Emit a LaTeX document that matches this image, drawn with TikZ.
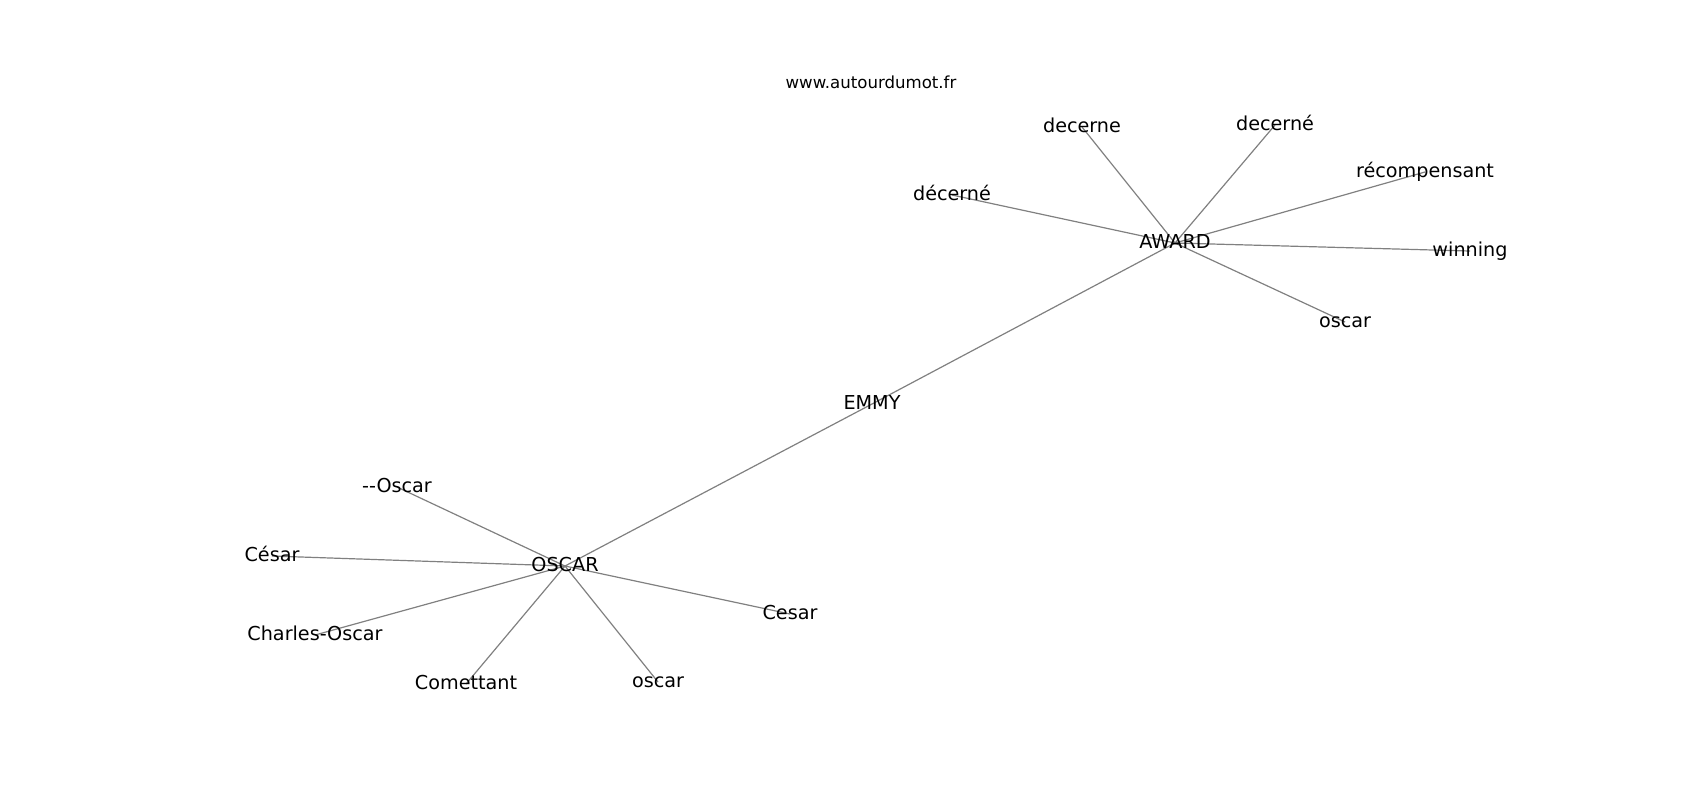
\documentclass[tikz,border=0pt]{standalone}
\usepackage{fontspec}
\setmainfont{DejaVu Sans}
\begin{document}
\begin{tikzpicture}[x=0.5pt,y=-0.5pt,
  lbl/.style={inner sep=0pt,font=\fontsize{9.6}{10}\selectfont,text height=0.78em,text depth=0.22em,anchor=center},
  edge/.style={draw=gray,line width=0.6pt}]
\useasboundingbox (0,0) rectangle (1700,800);
% node positions
\coordinate (award) at (1175,243);
\coordinate (emmy) at (872,404);
\coordinate (oscar) at (565,566);
\coordinate (decerne1) at (952,195);
\coordinate (decerne2) at (1082,127);
\coordinate (decerne3) at (1275,125);
\coordinate (recomp) at (1425,172);
\coordinate (winning) at (1470,251);
\coordinate (oscartop) at (1345,322);
\coordinate (doscar) at (397,487);
\coordinate (cesar1) at (272,556);
\coordinate (charles) at (315,635);
\coordinate (comet) at (466,684);
\coordinate (oscarbot) at (658,682);
\coordinate (cesar2) at (790,614);
% edges
\foreach \n in {decerne1,decerne2,decerne3,recomp,winning,oscartop,emmy}
  \draw[edge] (award) -- (\n);
\foreach \n in {doscar,cesar1,charles,comet,oscarbot,cesar2}
  \draw[edge] (oscar) -- (\n);
\draw[edge] (emmy) -- (oscar);
% labels
\node[lbl] (lAWARD) at (award) {AWARD};
\node[lbl] (lEMMY) at (emmy) {EMMY};
\node[lbl] (lOSCAR) at (oscar) {OSCAR};
\node[lbl] (l1) at (decerne1) {décerné};
\node[lbl] (l2) at (decerne2) {decerne};
\node[lbl] (l3) at (decerne3) {decerné};
\node[lbl] (l4) at (recomp) {récompensant};
\node[lbl] (l5) at (winning) {winning};
\node[lbl] (l6) at (oscartop) {oscar};
\node[lbl] (l7) at (doscar) {-{}-Oscar};
\node[lbl] (l8) at (cesar1) {César};
\node[lbl] (l9) at (charles) {Charles-Oscar};
\node[lbl] (l10) at (comet) {Comettant};
\node[lbl] (l11) at (oscarbot) {oscar};
\node[lbl] (l12) at (cesar2) {Cesar};
\node[lbl,font=\fontsize{8.3}{9}\selectfont] (url) at (871,83) {www.autourdumot.fr};
\end{tikzpicture}
\end{document}
